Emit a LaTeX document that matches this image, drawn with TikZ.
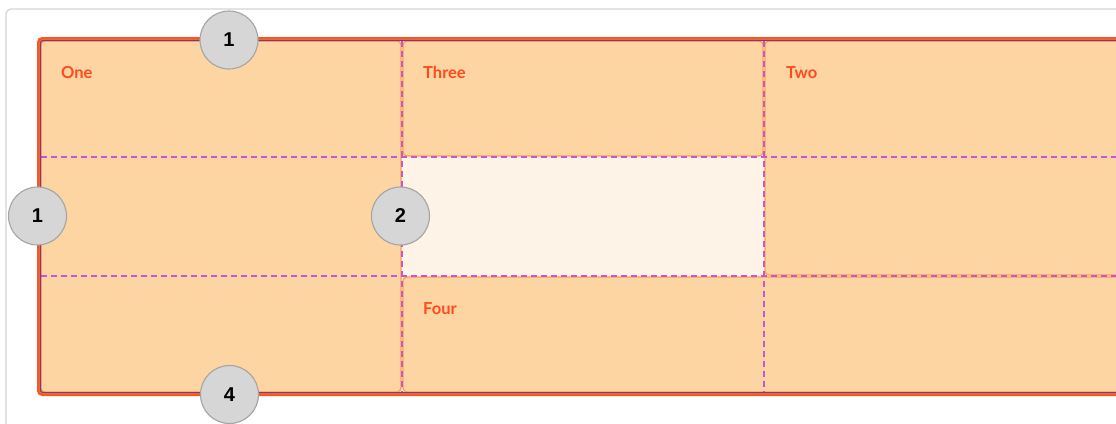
\documentclass[tikz,border=0pt]{standalone}
\usepackage{fontspec}
\setmainfont{Lato}
\newfontfamily\numfont{Liberation Sans}
\definecolor{peach}{HTML}{FDD5A3}
\definecolor{cream}{HTML}{FDF3E6}
\definecolor{itemedge}{HTML}{F9A24A}
\definecolor{labelred}{HTML}{FF4A1C}
\definecolor{gridmag}{HTML}{C855D8}
\definecolor{contred}{HTML}{FF5518}
\definecolor{contpurple}{HTML}{8A3470}
\definecolor{framegray}{HTML}{D4D4D4}
\definecolor{circfill}{HTML}{D6D6D6}
\definecolor{circedge}{HTML}{A4A4A4}
\tikzset{
  itembox/.style={fill=peach, draw=itemedge, line width=1.3pt, rounded corners=4pt},
  itemlabel/.style={anchor=base west, inner sep=0pt, text=labelred, font=\bfseries\fontsize{16.5}{18}\selectfont},
  gridline/.style={draw=gridmag, line width=1.2pt, dash pattern=on 6pt off 4pt},
  marker/.style={circle, minimum size=58pt, inner sep=0pt, fill=circfill, draw=circedge, line width=1.1pt, font=\numfont\bfseries\fontsize{20}{22}\selectfont, text=black},
}
\begin{document}
\begin{tikzpicture}[x=1pt,y=-1pt]
\useasboundingbox (0,0) rectangle (1116,423);
\begin{scope}
\clip (0,0) rectangle (1116,423);
% outer frame
\draw[framegray, line width=1.2pt, fill=white, rounded corners=5pt] (6,9) rectangle (1140,450);
% container background
\fill[cream] (38,38) rectangle (1140,395);
% items
\draw[itembox] (41,41) rectangle (401,392);
\draw[itembox] (403,41) rectangle (763,156);
\draw[itembox] (765,41) rectangle (1140,275);
\draw[itembox] (403,277) rectangle (1140,392);
% grid lines
\coordinate (hl1) at (41,157); \coordinate (hr1) at (1140,157);
\coordinate (hl2) at (41,276); \coordinate (hr2) at (1140,276);
\coordinate (vt1) at (402,41); \coordinate (vb1) at (402,393);
\coordinate (vt2) at (764,41); \coordinate (vb2) at (764,393);
\draw[gridline] (hl1) -- (hr1);
\draw[gridline] (hl2) -- (hr2);
\draw[gridline] (vt1) -- (vb1);
\draw[gridline] (vt2) -- (vb2);
% container border
\draw[contred, line width=2.6pt, rounded corners=4pt] (38.3,38.3) rectangle (1150,394.7);
\draw[contpurple, line width=1.4pt, rounded corners=3pt] (40.3,40.3) rectangle (1150,392.7);
% labels
\node[itemlabel] (one) at (61,78) {One};
\node[itemlabel] (three) at (423,78) {Three};
\node[itemlabel] (two) at (786,78) {Two};
\node[itemlabel] (four) at (423,314) {Four};
% markers
\node[marker] (m1) at (229,40) {1};
\node[marker] (m2) at (37.5,216) {1};
\node[marker] (m3) at (400.5,216) {2};
\node[marker] (m4) at (229.5,394.5) {4};
\end{scope}
\end{tikzpicture}
\end{document}
